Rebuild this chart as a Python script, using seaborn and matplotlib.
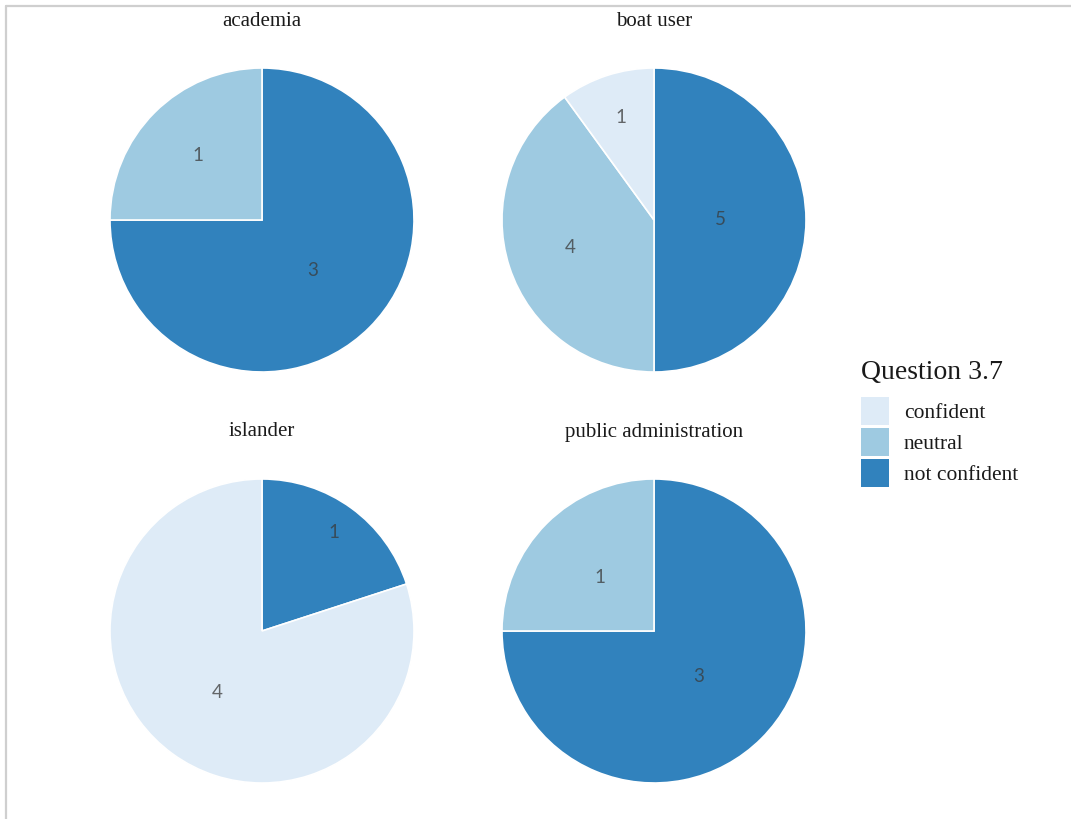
import numpy as np
import matplotlib
matplotlib.use("Agg")
import matplotlib.pyplot as plt
from matplotlib.patches import Patch
from matplotlib.lines import Line2D
import seaborn as sns

# Survey responses to Question 3.7, counted per stakeholder group
groups = ["academia", "boat user", "islander", "public administration"]
categories = ["confident", "neutral", "not confident"]
confident = [0, 1, 4, 0]
neutral = [1, 4, 0, 1]
not_confident = [3, 5, 1, 3]

sns.set_theme(style="white")
plt.rcParams["font.family"] = ["Liberation Serif", "DejaVu Serif"]

palette = sns.color_palette(["#deebf7", "#9ecae1", "#3182bd"])
colour = dict(zip(categories, palette))

# radial position of each count label, as a fraction of the pie radius
label_radius = {
    "academia": {"not confident": 0.47, "neutral": 0.60},
    "boat user": {"not confident": 0.44, "neutral": 0.58, "confident": 0.71},
    "islander": {"not confident": 0.80, "confident": 0.50},
    "public administration": {"not confident": 0.42, "neutral": 0.50},
}

W, H = 1071, 819
fig = plt.figure(figsize=(W / 100, H / 100), dpi=100)
fig.patch.set_facecolor("white")

centres = [(262, 220), (654, 220), (262, 631), (654, 631)]
R = 152

for i, g in enumerate(groups):
    cx, cy = centres[i]
    ax = fig.add_axes([(cx - R) / W, 1 - (cy + R) / H, 2 * R / W, 2 * R / H])
    # slices run clockwise from twelve o'clock: not confident, neutral, confident
    order = ["not confident", "neutral", "confident"]
    vals = {"confident": confident[i], "neutral": neutral[i], "not confident": not_confident[i]}
    keys = [k for k in order if vals[k] > 0]
    sizes = [vals[k] for k in keys]
    wedges, _ = ax.pie(sizes, colors=[colour[k] for k in keys], startangle=90,
                       counterclock=False, radius=1,
                       wedgeprops=dict(edgecolor="white", linewidth=1.2))
    for w, k, v in zip(wedges, keys, sizes):
        mid = np.deg2rad((w.theta1 + w.theta2) / 2)
        r = label_radius[g][k]
        ax.text(r * np.cos(mid), r * np.sin(mid), str(v), ha="center", va="center",
                fontsize=13.5, color="#3a3a3a", alpha=0.75, family=["Lato", "DejaVu Sans"])
    ax.set_xlim(-1, 1)
    ax.set_ylim(-1, 1)
    ax.set_aspect("equal")
    ax.axis("off")
    fig.text(cx / W, 1 - (cy - R - 47) / H, g, ha="center", va="center",
             fontsize=15, color="#1a1a1a")

handles = [Patch(facecolor=colour[c], edgecolor="none", label=c) for c in categories]
leg = fig.legend(handles=handles, title="Question 3.7", loc="upper left",
                 bbox_to_anchor=(852 / W, 1 - 351 / H), frameon=False,
                 fontsize=15.5, title_fontsize=20, handlelength=1.3, handleheight=1.63,
                 labelspacing=0.14, handletextpad=0.7, borderaxespad=0)
leg._legend_box.align = "left"
leg._legend_box.sep = 9
for t in leg.get_texts():
    t.set_color("#1a1a1a")
leg.get_title().set_color("#1a1a1a")

# thin grey frame along the top and left edges
fig.add_artist(Line2D([6 / W, 1], [1 - 6 / H, 1 - 6 / H], color="#cfcfcf", lw=1.6,
                      transform=fig.transFigure))
fig.add_artist(Line2D([6 / W, 6 / W], [0, 1 - 6 / H], color="#cfcfcf", lw=1.6,
                      transform=fig.transFigure))

fig.savefig("out.png", dpi=100)
